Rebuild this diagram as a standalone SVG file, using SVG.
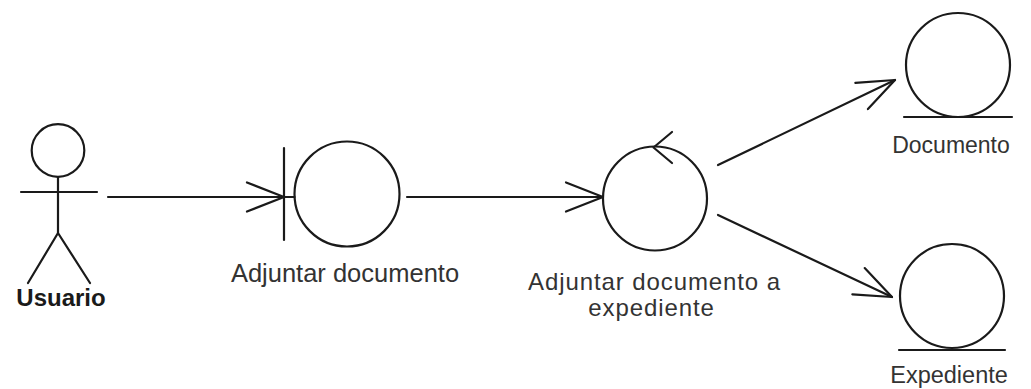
<svg xmlns="http://www.w3.org/2000/svg" width="1031" height="389" viewBox="0 0 1031 389">
<style>
.s{fill:none;stroke:#1a1a1a;stroke-width:2.2;stroke-linecap:round;stroke-linejoin:round}
.t{font-family:"Liberation Sans",Arial,sans-serif;fill:#333;text-anchor:middle}
.b{font-weight:bold;fill:#1a1a1a}
.c{font-size:24px;letter-spacing:0.9px}
</style>
<defs>
<marker id="open" viewBox="-42 -20 44 40" markerWidth="44" markerHeight="40" refX="0" refY="0" orient="auto" markerUnits="userSpaceOnUse" overflow="visible">
<path d="M-37,-14.5 L0,0 L-37,14.5" fill="none" stroke="#1a1a1a" stroke-width="2.2" stroke-linecap="round" stroke-linejoin="round"/>
</marker>
</defs>
<rect width="1031" height="389" fill="#fff"/>
<g id="usuario">
<circle class="s" cx="58" cy="150.5" r="26.3"/>
<line class="s" x1="21" y1="192" x2="97" y2="192"/>
<line class="s" x1="58" y1="177" x2="58" y2="233"/>
<polyline class="s" points="28,283 58,233 90,283"/>
<text class="t b" x="61" y="306" font-size="24">Usuario</text>
</g>
<g id="adjuntar-documento">
<line class="s" x1="284" y1="148" x2="284" y2="240"/>
<line class="s" x1="284" y1="197" x2="294.5" y2="197"/>
<circle class="s" cx="347" cy="194" r="52.5"/>
<text class="t" x="345" y="282" font-size="25.5">Adjuntar documento</text>
</g>
<g id="adjuntar-documento-a-expediente">
<circle class="s" cx="655" cy="198.5" r="52"/>
<polyline class="s" points="672,132 653.5,147.5 672,163"/>
<text class="t c" x="654.5" y="290">Adjuntar documento a</text>
<text class="t c" x="651.5" y="316">expediente</text>
</g>
<g id="documento">
<circle class="s" cx="958" cy="65" r="52"/>
<line class="s" x1="904" y1="117" x2="1012" y2="117"/>
<text class="t" x="951" y="153" font-size="23">Documento</text>
</g>
<g id="expediente">
<circle class="s" cx="952" cy="296" r="52"/>
<line class="s" x1="899" y1="350" x2="1005" y2="350"/>
<text class="t" x="949" y="383" font-size="23.5">Expediente</text>
</g>
<g id="connectors">
<line class="s" x1="108" y1="197" x2="284" y2="197" marker-end="url(#open)"/>
<line class="s" x1="407" y1="197" x2="603" y2="197" marker-end="url(#open)"/>
<line class="s" x1="718" y1="165" x2="895" y2="80" marker-end="url(#open)"/>
<line class="s" x1="718" y1="215" x2="892" y2="297" marker-end="url(#open)"/>
</g>
</svg>
